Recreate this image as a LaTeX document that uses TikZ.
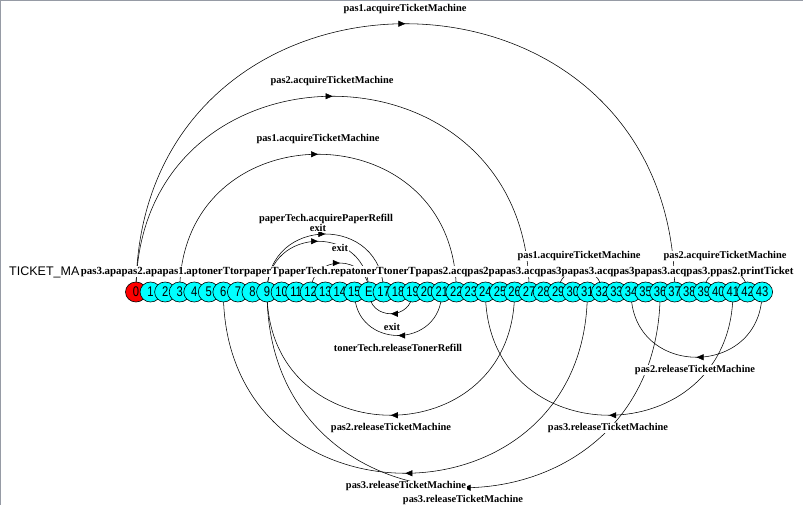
\documentclass[tikz,border=0pt]{standalone}
\usepackage{fontspec}
\newfontfamily\lblfont{Liberation Serif}
\newfontfamily\numfont{Liberation Sans}
\newfontfamily\stfont[FakeStretch=0.8]{Liberation Sans}
\usetikzlibrary{shapes.geometric,arrows.meta,decorations.markings,backgrounds}
\definecolor{framegray}{RGB}{150,155,165}
\definecolor{stcyan}{RGB}{0,255,255}
\definecolor{stred}{RGB}{255,0,0}
\begin{document}
\begin{tikzpicture}[x=1pt,y=1pt,
  st/.style={ellipse,draw=black,line width=0.6pt,fill=stcyan,minimum width=21pt,minimum height=20pt,inner sep=0pt,font=\stfont\fontsize{14}{14}\selectfont},
  lbl/.style={fill=white,inner sep=0.6pt,font=\lblfont\bfseries\fontsize{10.4}{12}\selectfont},
  tr/.style={draw=black,line width=0.55pt,postaction={decorate},decoration={markings,mark=at position 0.5 with {\arrow{Triangle[length=7pt,width=6pt]}}}},
  arcup/.style={out=90,in=90,looseness=1.7025},
  arcdn/.style={out=-90,in=-90,looseness=1.7025}]
\useasboundingbox (0,0) rectangle (803,-505);
% states
\foreach \i in {0,...,43}{
  \ifnum\i=0 \def\lab{0}\def\fc{stred}\else\ifnum\i=16 \def\lab{E}\def\fc{stcyan}\else\def\lab{\i}\def\fc{stcyan}\fi\fi
  \node[st,fill=\fc] (n\i) at ({136+14.56*\i},-292) {\lab};
}
\begin{scope}[on background layer]
  \fill[white] (0,0) rectangle (803,-505);
  % forward transitions (above)
  \draw[tr] (n0.center) to[arcup] (n37.center);
  \draw[tr] (n0.center) to[arcup] (n27.center);
  \draw[tr] (n3.center) to[arcup] (n22.center);
  \draw[tr] (n9.center) to[arcup] (n17.center);
  \draw[tr] (n9.center) to[arcup] (n16.center);
  \draw[tr] (n12.center) to[arcup] (n16.center);
  \draw[tr] (n29.center) to[arcup] (n32.center);
  \draw[tr] (n39.center) to[arcup] (n42.center);
  % backward transitions (below)
  \draw[tr] (n19.center) to[arcdn] (n16.center);
  \draw[tr] (n21.center) to[arcdn] (n15.center);
  \draw[tr] (n43.center) to[arcdn] (n34.center);
  \draw[tr] (n26.center) to[arcdn] (n9.center);
  \draw[tr] (n41.center) to[arcdn] (n24.center);
  \draw[tr] (n31.center) to[arcdn] (n6.center);
  \draw[tr] (n36.center) to[arcdn] (n9.center);
\end{scope}
\draw[framegray,line width=1.5pt] (0,-505) -- (0,0) -- (803,0);
% process name and row of labels
\node[font=\numfont\fontsize{12.5}{13}\selectfont,anchor=base west,inner sep=0pt] (title) at (9,-275.5) {TICKET\_MA};
\node[lbl,font=\lblfont\bfseries\fontsize{10.9}{12}\selectfont,anchor=base west] (row) at (80,-274) {pas3.apapas2.apapas1.aptonerTtorpaperTpaperTech.repatonerTtonerTpapas2.acqpas2papas3.acqpas3papas3.acqpas3papas3.acqpas3.ppas2.printTicket};
% transition labels
\node[lbl] (l1) at (405,-9) {pas1.acquireTicketMachine};
\node[lbl] (l2) at (332,-81) {pas2.acquireTicketMachine};
\node[lbl] (l3) at (318,-139) {pas1.acquireTicketMachine};
\node[lbl] (l4) at (326,-219) {paperTech.acquirePaperRefill};
\node[lbl] (l5) at (318,-228) {exit};
\node[lbl] (l6) at (340,-248) {exit};
\node[lbl] (l7) at (579,-256) {pas1.acquireTicketMachine};
\node[lbl] (l8) at (725,-256) {pas2.acquireTicketMachine};
\node[lbl] (l9) at (392,-327) {exit};
\node[lbl] (l10) at (398,-348) {tonerTech.releaseTonerRefill};
\node[lbl] (l11) at (695,-370) {pas2.releaseTicketMachine};
\node[lbl] (l12) at (391,-428) {pas2.releaseTicketMachine};
\node[lbl] (l13) at (608,-428) {pas3.releaseTicketMachine};
\node[lbl] (l14) at (406,-486) {pas3.releaseTicketMachine};
\node[lbl] (l15) at (463,-500) {pas3.releaseTicketMachine};
\end{tikzpicture}
\end{document}
